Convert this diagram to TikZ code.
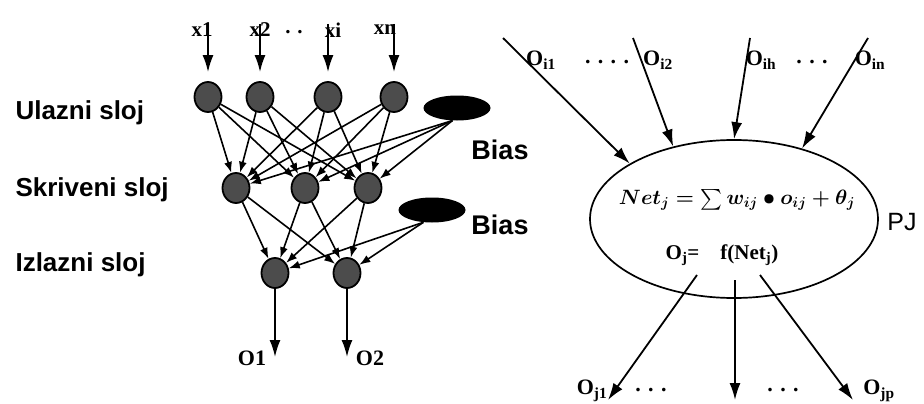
\documentclass[tikz,border=0pt]{standalone}
\usepackage{fontspec}
\setmainfont{Liberation Serif}
\setsansfont{Liberation Sans}
\usepackage{amsmath}
\usepackage{tikz}
\usetikzlibrary{positioning, shapes.geometric, arrows.meta}
\tikzset{
	>={Latex[length=11pt,width=8pt]},
	neuron/.style= {
		ellipse,
		draw,
		line width=1.8pt,
		fill=black!70,
		minimum width=27pt,
		minimum height=30pt,
		inner sep=0
	},
	bias/.style= {
		ellipse,
		fill=black,
		minimum width=67pt,
		minimum height=25pt,
		inner sep=0
	},
	cell/.style= {
		ellipse,
		draw,
		line width=1.7pt,
		minimum width=288pt,
		minimum height=158pt,
		inner sep=0
	},
	layername/.style= {
		font={\sffamily\bfseries\fontsize{26}{30}\selectfont},
		anchor=west
	},
	biasname/.style= {
		font={\sffamily\bfseries\fontsize{27}{30}\selectfont}
	},
	signal/.style= {
		font={\bfseries\fontsize{21}{24}\selectfont}
	},
	olab/.style= {
		font={\bfseries\fontsize{22}{26}\selectfont}
	},
	link/.style= {
		->, line width=1.6pt
	},
	bigarrow/.style= {
		-{Latex[length=17pt,width=11pt]}, line width=1.8pt
	},
}

\begin{document}
\begin{tikzpicture}[x=1pt, y=-1pt]
	\useasboundingbox (0,0) rectangle (924,404);
	
	% left network
	\node (ulaz)[layername] at (12,113) {Ulazni sloj};
	\node (skriv)[layername] at (12,190) {Skriveni sloj};
	\node (izlaz)[layername] at (12,265) {Izlazni sloj};
	
	\foreach[count=\i] \x/\lab/\lx in {208/x1/202, 260/x2/260, 328/xi/333, 394/xn/385}
	{
		\node (in\i)[neuron] at (\x,97) {};
		\coordinate (src\i) at (\x,24);
		\node (x\i)[signal] at (\lx,30) {\lab};
		\draw[bigarrow, shorten >=9pt] (src\i) -- (in\i);
	}
	\node (xdots)[signal] at (294,32) {. .};
	
	\foreach[count=\i] \x in {236,305,368}
	{
		\node (hid\i)[neuron] at (\x,188) {};
	}
	\node (out1)[neuron] at (275,273) {};
	\node (out2)[neuron] at (347,273) {};
	
	\node (bias1)[bias] at (457,108) {};
	\node (bias2)[bias] at (432,210) {};
	\node (biaslab1)[biasname] at (500,150) {Bias};
	\node (biaslab2)[biasname] at (500,225) {Bias};
	
	\foreach \i in {1,...,4}
	{
		\foreach \j in {1,2,3}
		{
			\draw[link] (in\i) -- (hid\j);
		}
	}
	\foreach \j in {1,2,3}
	{
		\draw[link] (bias1.250) -- (hid\j);
		\foreach \k in {1,2}
		{
			\draw[link] (hid\j) -- (out\k);
		}
	}
	\foreach \k in {1,2}
	{
		\draw[link] (bias2.235) -- (out\k);
	}
	
	\foreach \k/\x/\lx in {1/275/252, 2/347/370}
	{
		\coordinate (res\k) at (\x,357);
		\draw[bigarrow] (out\k) -- (res\k);
		\node (o\k)[olab] at (\lx,358) {O\k};
	}
	
	% right neuron
	\node (pj)[cell] at (734,219) {};
	\node (net)[font={\fontsize{20}{24}\selectfont\boldmath}] at (737,200) {$Net_j = \sum w_{ij} \bullet o_{ij} + \theta_j$};
	\node (fnet)[font={\bfseries\fontsize{21}{24}\selectfont}] at (722,255) {O\textsubscript{j}=\quad f(Net\textsubscript{j})};
	\node (pjlab)[font={\sffamily\fontsize{25}{28}\selectfont}] at (902,222) {PJ};
	
	\foreach \k/\sx/\ang/\lx/\idx in {1/503/152/541/i1, 2/633/130/658/i2, 3/750/90/761/ih, 4/868/46/870/in}
	{
		\coordinate (inp\k) at (\sx,38);
		\draw[bigarrow] (inp\k) -- (pj.\ang);
		\node (oi\k)[olab] at (\lx,60) {O\textsubscript{\idx}};
	}
	\node (idotsa)[olab] at (607,62) {. . . .};
	\node (idotsb)[olab] at (812,62) {. . .};
	
	\foreach \k/\sx/\sy/\ex in {1/697/275/608, 2/735/280/735, 3/760/275/853}
	{
		\coordinate (from\k) at (\sx,\sy);
		\coordinate (to\k) at (\ex,400);
		\draw[bigarrow] (from\k) -- (to\k);
	}
	\node (oj1)[olab] at (592,391) {O\textsubscript{j1}};
	\node (ojp)[olab] at (879,391) {O\textsubscript{jp}};
	\node (jdotsa)[olab] at (651,390) {. . .};
	\node (jdotsb)[olab] at (783,390) {. . .};
	
\end{tikzpicture}
\end{document}
